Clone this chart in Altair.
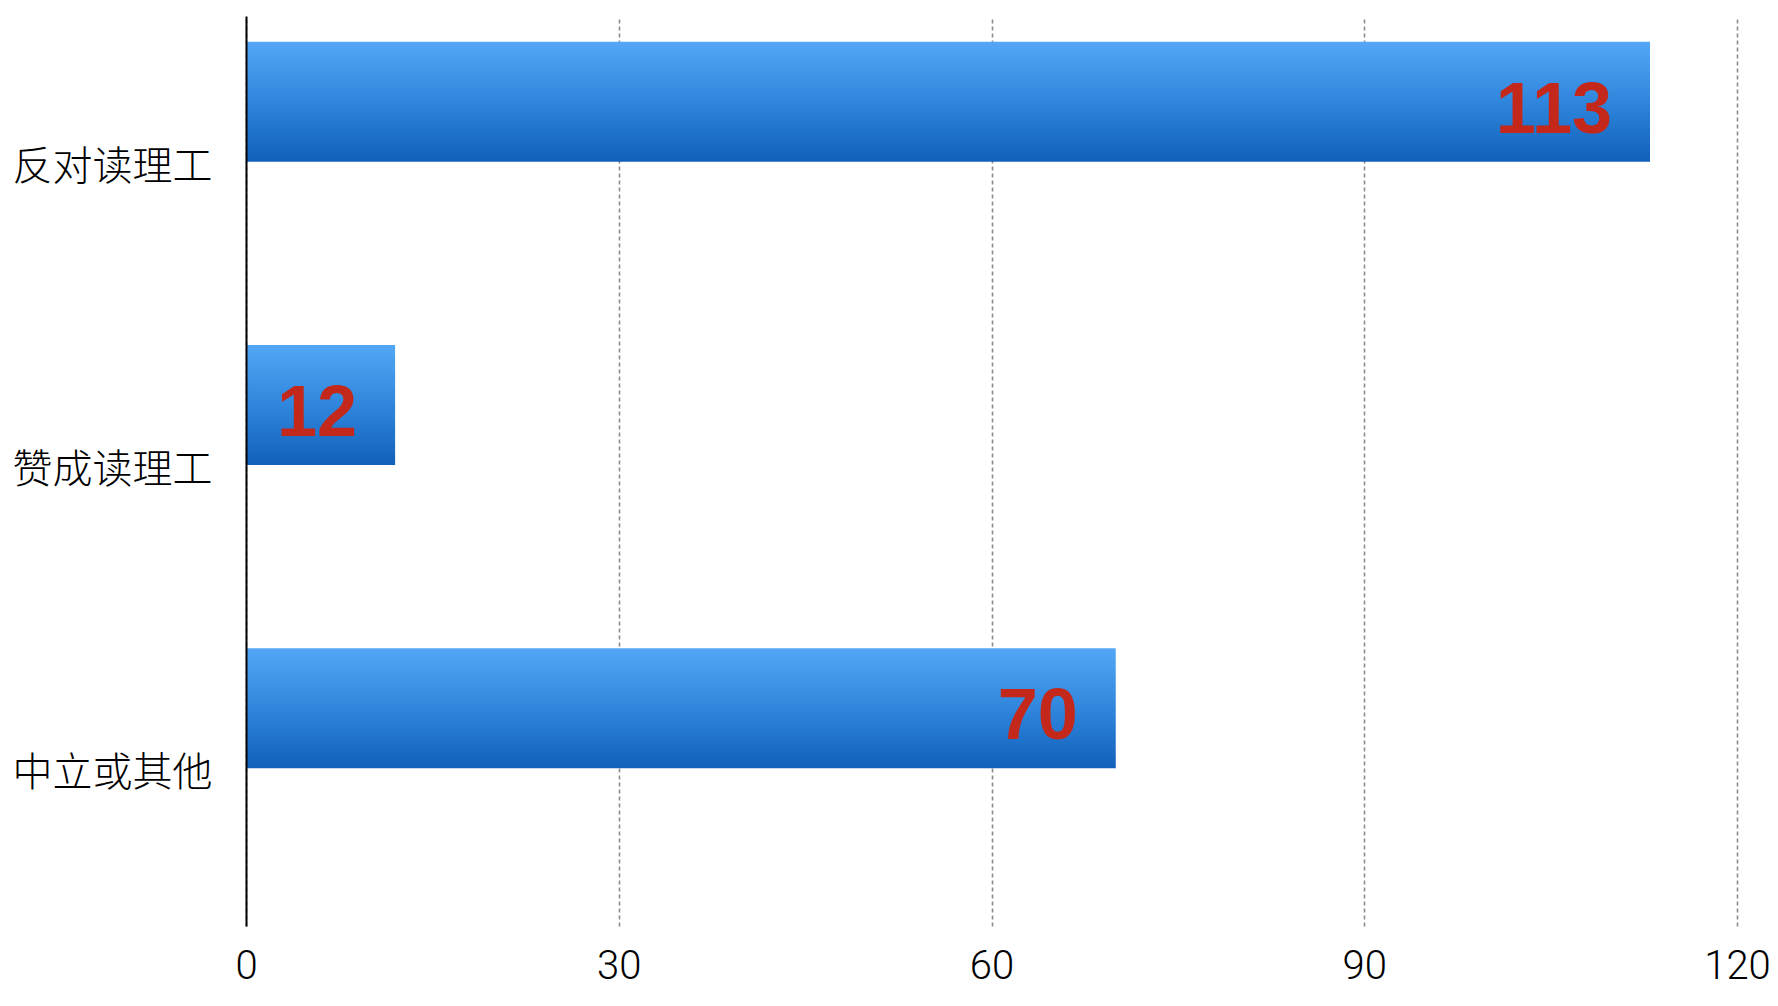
import altair as alt
import pandas as pd

categories = ["反对读理工", "赞成读理工", "中立或其他"]
values = [113, 12, 70]
x_ticks = [0, 30, 60, 90, 120]

df = pd.DataFrame({"category": categories, "value": values})

x_enc = alt.X(
    "value:Q",
    scale=alt.Scale(domain=[0, 120], nice=False),
    axis=alt.Axis(
        values=x_ticks,
        title=None,
        domain=False,
        ticks=False,
        grid=True,
        gridDash=[4, 3],
        gridColor="#8c8c8c",
        gridWidth=1.6,
        labelFont="Roboto",
        labelFontWeight=300,
        labelFontSize=40,
        labelColor="#000000",
        labelPadding=20,
        labelFlush=False,
        labelOverlap=False,
    ),
)
y_enc = alt.Y(
    "category:N",
    sort=categories,
    scale=alt.Scale(paddingInner=0, paddingOuter=0),
    axis=alt.Axis(
        title=None,
        ticks=False,
        domain=True,
        domainColor="#000000",
        domainWidth=2,
        labelFont="Noto Sans CJK SC",
        labelFontWeight=300,
        labelFontSize=40,
        labelColor="#000000",
        labelPadding=34,
        labelLimit=0,
        zindex=1,
    ),
)

gradient = alt.Gradient(
    gradient="linear",
    stops=[
        alt.GradientStop(color="#53A7F6", offset=0),
        alt.GradientStop(color="#2F86DC", offset=0.5),
        alt.GradientStop(color="#1160BA", offset=1),
    ],
    x1=0, x2=0, y1=0, y2=1,
)

bars = alt.Chart(df).mark_bar(color=gradient, height=120, yOffset=-66).encode(
    x=x_enc, y=y_enc
)

labels = alt.Chart(df).mark_text(
    align="right",
    baseline="middle",
    dx=-38,
    dy=-57,
    font="Liberation Sans",
    fontSize=72,
    fontWeight="bold",
    color="#C4281A",
).encode(x="value:Q", y=alt.Y("category:N", sort=categories), text="value:Q")

chart = (
    alt.layer(bars, labels)
    .properties(
        width=1491,
        height=910,
        autosize=alt.AutoSizeParams(type="none"),
        padding={"left": 238, "top": 8, "right": 33, "bottom": 66},
    )
    .configure_view(stroke=None)
)

chart.save("out.html", embed_options={"renderer": "svg", "actions": False})
